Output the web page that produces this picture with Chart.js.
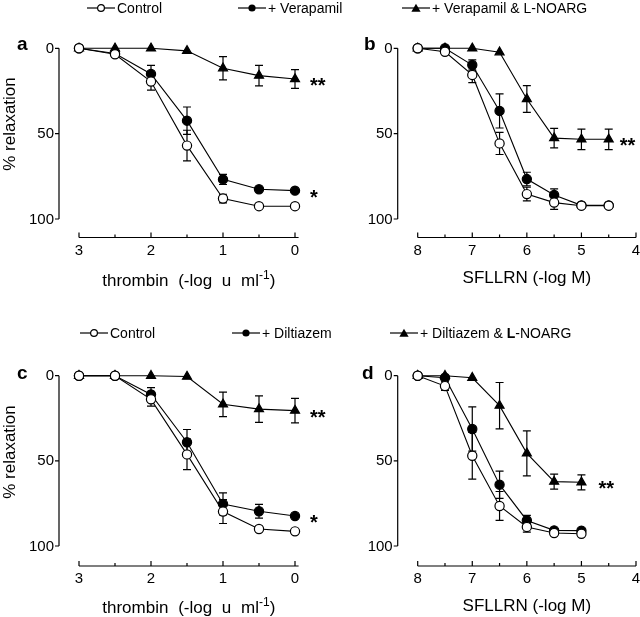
<!DOCTYPE html>
<html>
<head>
<meta charset="utf-8">
<script src="https://cdn.jsdelivr.net/npm/chart.js@4.4.0/dist/chart.umd.min.js"></script>
<style>
  html, body { margin: 0; padding: 0; background: #fff; }
  #page { position: relative; width: 640px; height: 617px; overflow: hidden; font-family: 'Liberation Sans', Arial, sans-serif; }
  #page canvas { position: absolute; left: 0; top: 0; }
  .key { position: absolute; height: 16px; line-height: 16px; display: flex; align-items: center; font-size: 14px; color: #000; white-space: nowrap; }
  .key svg { margin-right: 2px; flex: none; }
</style>
</head>
<body>
<div id="page">
  <canvas id="panelA" width="640" height="617"></canvas>
  <canvas id="panelB" width="640" height="617"></canvas>
  <canvas id="panelC" width="640" height="617"></canvas>
  <canvas id="panelD" width="640" height="617"></canvas>
  <div id="keys"></div>
</div>
<script>
// doses (x axis)
const thrombinDoses = [3, 2.5, 2, 1.5, 1, 0.5, 0];
const sfllrnDosesB = [8, 7.5, 7, 6.5, 6, 5.5, 5, 4.5];
const sfllrnDosesD = [8, 7.5, 7, 6.5, 6, 5.5, 5];

// panel a: thrombin, verapamil
const aControl = [0, 3.5, 19.5, 57, 88, 92.5, 92.5];
const aControlErr = [0, 0, 5, 9, 2.5, 0, 0];
const aVerapamil = [0, 3, 15, 42.4, 76.8, 82.6, 83.4];
const aVerapamilErr = [0, 0, 5, 8, 3, 1, 0];
const aVeraNoarg = [0, 0, 0, 1.5, 11.7, 16, 18];
const aVeraNoargErr = [0, 0, 0, 0, 6.8, 6, 5.5];

// panel b: SFLLRN, verapamil
const bControl = [0, 2, 15.6, 55.7, 85.4, 90.4, 92.2, 92.2];
const bControlErr = [0, 0, 4.5, 6.5, 4, 4, 0, 0];
const bVerapamil = [0, 0, 9.8, 36.7, 76.6, 85.9, 92, 92];
const bVerapamilErr = [0, 0, 3, 10, 4, 3.5, 0, 0];
const bVeraNoarg = [0, 0, 0, 2.3, 29.7, 52.6, 53.3, 53.3];
const bVeraNoargErr = [0, 0, 0, 0, 7.8, 5.7, 6, 6];

// panel c: thrombin, diltiazem
const cControl = [0, 0, 13.9, 46.2, 79.8, 90, 91.4];
const cControlErr = [0, 0, 4, 9, 7, 0, 0];
const cDiltiazem = [0, 0, 11, 39.1, 75.3, 79.6, 82.4];
const cDiltiazemErr = [0, 0, 4, 7.5, 6.5, 4, 0];
const cDiltNoarg = [0, 0, 0, 0.5, 16.8, 19.6, 20.5];
const cDiltNoargErr = [0, 0, 0, 0, 7.2, 7.8, 7.2];

// panel d: SFLLRN, diltiazem
const dControl = [0, 6.1, 47, 76.5, 88.8, 92.4, 92.8];
const dControlErr = [0, 2.5, 13.7, 8.5, 3, 0, 0];
const dDiltiazem = [0, 1.2, 31.3, 64, 85, 90.8, 91];
const dDiltiazemErr = [0, 0, 13, 8, 3, 0, 0];
const dDiltNoarg = [0, 0, 1.2, 17.6, 45.6, 62.2, 62.6];
const dDiltNoargErr = [0, 0, 0, 13.6, 13.2, 4.4, 4.4];

const relaxTicks = [0, 50, 100];
const thrombinMajor = [3, 2, 1, 0];
const thrombinMinor = [2.5, 1.5, 0.5];
const sfllrnMajor = [8, 7, 6, 5, 4];
const sfllrnMinor = [7.5, 6.5, 5.5, 4.5];

const FONT = "'Liberation Sans', Arial, sans-serif";

// draws the detached axes, error bars, titles and significance stars
const panelFrame = {
  id: 'panelFrame',
  beforeDatasetsDraw(chart, args, o) {
    const ctx = chart.ctx, xs = chart.scales.x, ys = chart.scales.y;
    ctx.save();
    ctx.strokeStyle = '#000';
    ctx.lineWidth = 1.2;
    chart.data.datasets.forEach(ds => {
      ds.data.forEach((p, j) => {
        const e = ds.errors[j];
        if (!e) return;
        const x = xs.getPixelForValue(p.x);
        const y1 = ys.getPixelForValue(p.y - e);
        const y2 = ys.getPixelForValue(p.y + e);
        ctx.beginPath();
        ctx.moveTo(x, y1); ctx.lineTo(x, y2);
        ctx.moveTo(x - 4, y1); ctx.lineTo(x + 4, y1);
        ctx.moveTo(x - 4, y2); ctx.lineTo(x + 4, y2);
        ctx.stroke();
      });
    });
    ctx.restore();
  },
  afterDraw(chart, args, o) {
    const ctx = chart.ctx, xs = chart.scales.x, ys = chart.scales.y;
    ctx.save();
    ctx.strokeStyle = '#000';
    ctx.fillStyle = '#000';
    ctx.lineWidth = 1.2;

    // y axis
    ctx.beginPath();
    ctx.moveTo(o.ySpineX, ys.getPixelForValue(relaxTicks[0]));
    ctx.lineTo(o.ySpineX, ys.getPixelForValue(relaxTicks[relaxTicks.length - 1]));
    relaxTicks.forEach(t => {
      const y = ys.getPixelForValue(t);
      ctx.moveTo(o.ySpineX - 4, y); ctx.lineTo(o.ySpineX, y);
    });
    ctx.stroke();
    ctx.font = '15px ' + FONT;
    ctx.textAlign = 'right';
    ctx.textBaseline = 'middle';
    relaxTicks.forEach(t => ctx.fillText(String(t), o.ySpineX - 5, ys.getPixelForValue(t) + 0.5));

    // x axis
    ctx.beginPath();
    ctx.moveTo(xs.getPixelForValue(o.xFrom), o.xSpineY);
    ctx.lineTo(xs.getPixelForValue(o.xTo), o.xSpineY);
    o.major.forEach(t => {
      const x = xs.getPixelForValue(t);
      ctx.moveTo(x, o.xSpineY); ctx.lineTo(x, o.xSpineY - 5);
    });
    o.minor.forEach(t => {
      const x = xs.getPixelForValue(t);
      ctx.moveTo(x, o.xSpineY); ctx.lineTo(x, o.xSpineY - 3);
    });
    ctx.stroke();
    ctx.textAlign = 'center';
    o.major.forEach(t => ctx.fillText(String(t), xs.getPixelForValue(t), o.xSpineY + 13));

    // x title (with optional superscript)
    const mid = (xs.getPixelForValue(o.xFrom) + xs.getPixelForValue(o.xTo)) / 2;
    ctx.textBaseline = 'alphabetic';
    ctx.textAlign = 'left';
    ctx.wordSpacing = o.wordSpacing || '0px';
    const big = '17px ' + FONT, small = '12px ' + FONT;
    let total = 0;
    o.xTitle.forEach(part => { ctx.font = part.sup ? small : big; total += ctx.measureText(part.text).width; });
    let cx = mid - total / 2;
    o.xTitle.forEach(part => {
      ctx.font = part.sup ? small : big;
      ctx.fillText(part.text, cx, o.xTitleY - (part.sup ? 7 : 0));
      cx += ctx.measureText(part.text).width;
    });
    ctx.wordSpacing = '0px';

    // y title
    if (o.yTitle) {
      ctx.save();
      ctx.translate(o.yTitleX, o.yTitleY);
      ctx.rotate(-Math.PI / 2);
      ctx.font = big;
      ctx.textAlign = 'center';
      ctx.textBaseline = 'middle';
      ctx.fillText(o.yTitle, 0, 0);
      ctx.restore();
    }

    // panel letter
    ctx.font = 'bold 19px ' + FONT;
    ctx.textAlign = 'left';
    ctx.fillText(o.letter, o.letterX, o.letterY);

    // significance stars next to the last point of a series
    ctx.font = 'bold 20px ' + FONT;
    o.stars.forEach(s => {
      const ds = chart.data.datasets[s.series];
      const last = ds.data[ds.data.length - 1];
      const x = xs.getPixelForValue(last.x) + s.dx;
      const y = ys.getPixelForValue(last.y);
      ctx.fillText(s.text, x, y + 13);
    });
    ctx.restore();
  }
};

function series(label, doses, values, errors, style) {
  const filled = style !== 'open';
  return {
    label: label,
    data: doses.map((d, i) => ({ x: d, y: values[i] })),
    errors: errors,
    borderColor: '#000',
    borderWidth: 1.1,
    backgroundColor: filled ? '#000' : '#fff',
    pointStyle: style === 'triangle' ? 'triangle' : 'circle',
    pointRadius: style === 'triangle' ? 5.2 : 4.6,
    pointBorderWidth: 1.2,
    pointBorderColor: '#000',
    pointBackgroundColor: filled ? '#000' : '#fff',
    tension: 0,
    clip: false
  };
}

function makePanel(id, geo, xMin, xMax, datasets, frame) {
  return new Chart(document.getElementById(id), {
    type: 'line',
    data: { datasets: datasets },
    options: {
      responsive: false,
      animation: false,
      events: [],
      layout: {
        autoPadding: false,
        padding: { left: geo.left, right: 640 - geo.right, top: geo.top, bottom: 617 - geo.bottom }
      },
      scales: {
        x: { type: 'linear', display: false, min: xMin, max: xMax, reverse: true },
        y: { type: 'linear', display: false, min: 0, max: 100, reverse: true }
      },
      plugins: {
        legend: { display: false },
        tooltip: { enabled: false },
        panelFrame: frame
      }
    },
    plugins: [panelFrame]
  });
}

const thrombinTitle = [{ text: 'thrombin (-log u ml' }, { text: '-1', sup: true }, { text: ')' }];
const sfllrnTitle = [{ text: 'SFLLRN (-log M)' }];

makePanel('panelA', { left: 79, right: 295, top: 48.3, bottom: 219 }, 0, 3, [
  series('Control', thrombinDoses, aControl, aControlErr, 'open'),
  series('+ Verapamil', thrombinDoses, aVerapamil, aVerapamilErr, 'filled'),
  series('+ Verapamil & L-NOARG', thrombinDoses, aVeraNoarg, aVeraNoargErr, 'triangle')
], {
  ySpineX: 59, xSpineY: 237.5, xFrom: 3, xTo: -0.05, major: thrombinMajor, minor: thrombinMinor,
  xTitle: thrombinTitle, xTitleY: 286, wordSpacing: '5px', yTitle: '% relaxation', yTitleX: 10, yTitleY: 124,
  letter: 'a', letterX: 17, letterY: 50,
  stars: [{ series: 2, text: '**', dx: 15 }, { series: 1, text: '*', dx: 15 }]
});

makePanel('panelB', { left: 417.7, right: 636, top: 48.3, bottom: 219 }, 4, 8, [
  series('Control', sfllrnDosesB, bControl, bControlErr, 'open'),
  series('+ Verapamil', sfllrnDosesB, bVerapamil, bVerapamilErr, 'filled'),
  series('+ Verapamil & L-NOARG', sfllrnDosesB, bVeraNoarg, bVeraNoargErr, 'triangle')
], {
  ySpineX: 397.7, xSpineY: 237.5, xFrom: 8, xTo: 4, major: sfllrnMajor, minor: sfllrnMinor,
  xTitle: sfllrnTitle, xTitleY: 283, yTitle: null,
  letter: 'b', letterX: 364, letterY: 50,
  stars: [{ series: 2, text: '**', dx: 11 }]
});

makePanel('panelC', { left: 79, right: 295, top: 375.7, bottom: 546 }, 0, 3, [
  series('Control', thrombinDoses, cControl, cControlErr, 'open'),
  series('+ Diltiazem', thrombinDoses, cDiltiazem, cDiltiazemErr, 'filled'),
  series('+ Diltiazem & L-NOARG', thrombinDoses, cDiltNoarg, cDiltNoargErr, 'triangle')
], {
  ySpineX: 59, xSpineY: 566, xFrom: 3, xTo: -0.05, major: thrombinMajor, minor: thrombinMinor,
  xTitle: thrombinTitle, xTitleY: 613, wordSpacing: '5px', yTitle: '% relaxation', yTitleX: 10, yTitleY: 452,
  letter: 'c', letterX: 17, letterY: 379,
  stars: [{ series: 2, text: '**', dx: 15 }, { series: 1, text: '*', dx: 15 }]
});

makePanel('panelD', { left: 417.7, right: 636, top: 375.7, bottom: 546 }, 4, 8, [
  series('Control', sfllrnDosesD, dControl, dControlErr, 'open'),
  series('+ Diltiazem', sfllrnDosesD, dDiltiazem, dDiltiazemErr, 'filled'),
  series('+ Diltiazem & L-NOARG', sfllrnDosesD, dDiltNoarg, dDiltNoargErr, 'triangle')
], {
  ySpineX: 397.7, xSpineY: 566, xFrom: 8, xTo: 4, major: sfllrnMajor, minor: sfllrnMinor,
  xTitle: sfllrnTitle, xTitleY: 611, yTitle: null,
  letter: 'd', letterX: 362, letterY: 379,
  stars: [{ series: 2, text: '**', dx: 17 }]
});

// legends (HTML text with small symbols)
const symbols = {
  open: '<circle cx="14" cy="6" r="3.4" fill="#fff" stroke="#000" stroke-width="1.2"/>',
  filled: '<circle cx="14" cy="6" r="3.6" fill="#000"/>',
  triangle: '<polygon points="14,1.8 18.6,9.8 9.4,9.8" fill="#000"/>'
};
const legendItems = [
  { left: 87, cy: 8, style: 'open', html: 'Control' },
  { left: 238, cy: 8, style: 'filled', html: '+ Verapamil' },
  { left: 402, cy: 8, style: 'triangle', html: '+ Verapamil &amp; L-NOARG' },
  { left: 80, cy: 333, style: 'open', html: 'Control' },
  { left: 232, cy: 333, style: 'filled', html: '+ Diltiazem' },
  { left: 390, cy: 333, style: 'triangle', html: '+ Diltiazem &amp; <b>L</b>-NOARG' }
];
const keys = document.getElementById('keys');
legendItems.forEach(k => {
  const div = document.createElement('div');
  div.className = 'key';
  div.style.left = k.left + 'px';
  div.style.top = (k.cy - 8) + 'px';
  div.innerHTML = '<svg width="28" height="12" viewBox="0 0 28 12"><line x1="0" y1="6" x2="28" y2="6" stroke="#000" stroke-width="1.2"/>' +
    symbols[k.style] + '</svg><span>' + k.html + '</span>';
  keys.appendChild(div);
});
</script>
</body>
</html>
